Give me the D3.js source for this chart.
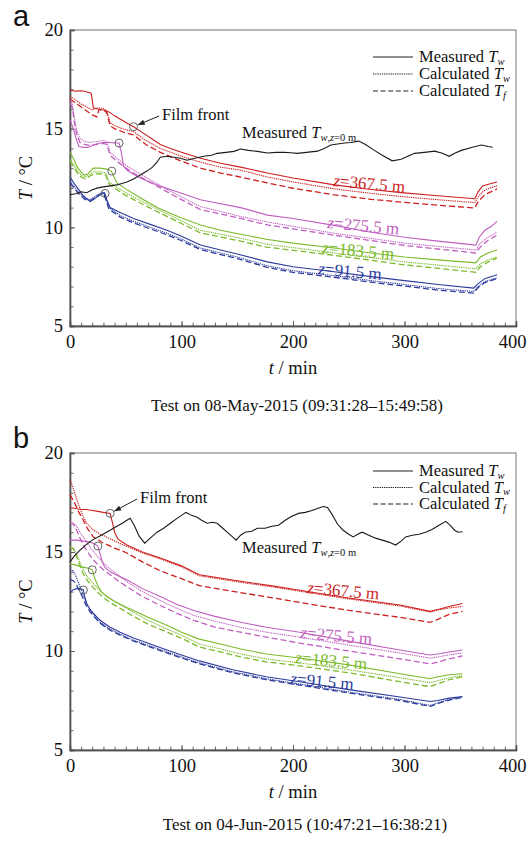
<!DOCTYPE html>
<html><head><meta charset="utf-8">
<script src="https://cdn.jsdelivr.net/npm/d3@7"></script>
<style>body{margin:0;background:#fff} svg{display:block} text{font-family:'Liberation Serif','Times New Roman',serif}</style>
</head><body><svg id="c" width="532" height="841"></svg>
<script>
// ---------------- DATA (t in min, T in °C) ----------------
const xTicks = [0, 100, 200, 300, 400];
const yTicks = [5, 10, 15, 20];
const depthLabels = ["z=367.5 m", "z=275.5 m", "z=183.5 m", "z=91.5 m"];
const captionA = "Test on 08-May-2015 (09:31:28\u201315:49:58)";
const captionB = "Test on 04-Jun-2015 (10:47:21\u201316:38:21)";

// ---- Panel a ----
const aSurface = [[0,11.65],[5,11.7],[10,11.8],[15,11.75],[20,11.9],[25,12.0],[30,12.05],[36,12.1],[42,12.15],[51,12.3],[57,12.45],[63,12.65],[69,12.85],[74,13.05],[78,13.3],[81,13.55],[87,13.6],[93,13.55],[99,13.5],[105,13.4],[112,13.5],[120,13.6],[127,13.65],[132,13.75],[140,13.8],[147,13.85],[153,13.97],[160,13.9],[168,13.85],[177,13.77],[185,13.8],[192,13.8],[198,13.78],[204,13.75],[212,13.8],[222,13.86],[228,14.0],[234,14.17],[240,14.22],[246,14.27],[252,14.3],[259,14.37],[265,14.2],[273,13.9],[280,13.65],[289,13.37],[297,13.45],[303,13.6],[309,13.75],[318,13.8],[327,13.86],[334,13.75],[340,13.6],[345,13.75],[351,13.9],[360,14.05],[369,14.17],[375,14.1],[379,14.06]];

const aRedMeas = [[0,16.95],[5,16.9],[10,16.92],[13,16.9],[16,16.85],[19,16.8],[21,16.05],[25,16.0],[30,15.95],[35,15.85],[40,15.65],[46,15.45],[52,15.25],[57,15.1],[65,14.8],[73,14.5],[81,14.2],[90,14.0],[100,13.8],[117,13.5],[135,13.25],[153,13.05],[177,12.75],[200,12.5],[237,12.15],[270,11.92],[297,11.76],[330,11.6],[363,11.45],[366,11.8],[370,12.1],[376,12.2],[383,12.3]];
const aRedCalcW = [[0,16.65],[5,16.45],[10,16.25],[15,16.1],[20,15.95],[24,16.05],[28,16.05],[31,16.0],[33,15.9],[36,15.3],[40,15.15],[48,14.98],[57,14.85],[68,14.4],[81,14.0],[100,13.6],[117,13.3],[135,13.05],[153,12.9],[177,12.55],[200,12.3],[237,11.95],[270,11.72],[297,11.56],[330,11.4],[363,11.25],[366,11.55],[371,11.85],[377,12.0],[383,12.1]];
const aRedCalcF = [[0,16.5],[5,16.3],[10,16.1],[15,15.9],[20,15.7],[24,15.6],[26,15.95],[30,15.95],[33,15.8],[36,15.15],[40,15.0],[48,14.82],[57,14.68],[68,14.2],[81,13.8],[100,13.35],[117,13.0],[135,12.75],[153,12.55],[177,12.25],[200,11.98],[237,11.65],[270,11.42],[297,11.28],[330,11.12],[363,10.98],[366,11.3],[372,11.65],[383,11.95]];

const aMagMeas = [[0,15.45],[3,15.0],[6,14.4],[8,14.1],[12,14.05],[16,14.05],[20,14.15],[25,14.25],[30,14.3],[36,14.3],[40,14.28],[44,14.27],[46,13.8],[48,13.1],[52,12.85],[60,12.6],[66,12.42],[80,12.1],[96,11.8],[117,11.4],[126,11.3],[153,11.0],[177,10.62],[200,10.45],[237,10.1],[270,9.75],[300,9.5],[330,9.3],[364,9.1],[367,9.5],[372,9.85],[378,10.05],[383,10.3]];
const aMagCalcW = [[0,16.45],[2,16.3],[4,15.5],[6,14.9],[9,14.5],[13,14.35],[18,14.3],[24,14.35],[30,14.4],[33,14.35],[36,13.8],[42,13.5],[50,13.15],[60,12.8],[72,12.4],[96,11.65],[117,11.05],[153,10.55],[177,10.27],[237,9.7],[300,9.2],[364,8.85],[368,9.2],[375,9.5],[383,9.75]];
const aMagCalcF = [[0,16.3],[2,16.1],[4,15.3],[6,14.7],[9,14.3],[13,14.2],[18,14.15],[24,14.2],[30,14.25],[33,14.2],[36,13.65],[42,13.35],[50,13.0],[60,12.65],[72,12.28],[96,11.52],[117,10.9],[153,10.45],[177,10.12],[237,9.6],[300,9.08],[364,8.7],[368,9.0],[375,9.35],[383,9.6]];

const aGrnMeas = [[0,13.8],[3,13.5],[6,13.1],[10,12.8],[13,12.65],[16,12.7],[19,12.9],[21,13.0],[27,13.0],[33,12.95],[37,12.85],[40,12.5],[42,12.25],[50,11.95],[57,11.7],[66,11.4],[80,10.95],[99,10.5],[117,10.12],[135,9.85],[153,9.65],[176,9.4],[200,9.2],[237,8.95],[270,8.7],[300,8.5],[330,8.35],[364,8.2],[368,8.5],[375,8.7],[383,8.85]];
const aGrnCalcW = [[0,13.45],[3,13.2],[6,12.9],[10,12.65],[14,12.55],[18,12.7],[21,12.8],[27,12.82],[32,12.75],[35,12.3],[40,12.1],[50,11.75],[60,11.45],[72,11.1],[99,10.35],[117,9.85],[153,9.45],[176,9.15],[237,8.7],[300,8.25],[364,7.9],[368,8.15],[375,8.35],[383,8.5]];
const aGrnCalcF = [[0,13.35],[3,13.1],[6,12.8],[10,12.55],[14,12.45],[18,12.6],[21,12.7],[27,12.72],[32,12.65],[35,12.2],[40,11.98],[50,11.62],[60,11.32],[72,10.97],[99,10.22],[117,9.72],[153,9.3],[176,9.0],[237,8.58],[300,8.1],[364,7.72],[368,8.0],[375,8.25],[383,8.45]];

const aBluMeas = [[0,12.55],[4,12.2],[8,11.9],[12,11.6],[18,11.3],[22,11.45],[27,11.65],[31,11.75],[33,11.4],[36,11.0],[45,10.75],[57,10.45],[72,10.15],[87,9.85],[100,9.55],[117,9.1],[135,8.85],[150,8.65],[177,8.25],[200,8.0],[237,7.75],[270,7.5],[300,7.3],[330,7.1],[362,6.92],[366,7.15],[372,7.4],[383,7.6]];
const aBluCalcW = [[0,12.35],[4,12.05],[8,11.75],[13,11.5],[18,11.4],[22,11.55],[26,11.7],[30,11.8],[32,11.5],[35,11.0],[45,10.6],[57,10.3],[72,10.0],[87,9.7],[100,9.4],[117,8.95],[135,8.7],[150,8.5],[177,8.05],[200,7.8],[237,7.55],[270,7.3],[300,7.1],[330,6.9],[362,6.75],[366,7.0],[372,7.25],[383,7.45]];
const aBluCalcF = [[0,12.25],[4,11.97],[8,11.68],[13,11.43],[18,11.33],[22,11.48],[26,11.63],[30,11.73],[32,11.42],[35,10.92],[45,10.52],[57,10.22],[72,9.92],[87,9.62],[100,9.32],[117,8.87],[135,8.62],[150,8.42],[177,7.97],[200,7.72],[237,7.47],[270,7.22],[300,7.02],[330,6.82],[362,6.67],[366,6.95],[372,7.2],[383,7.4]];

// ---- Panel b ----
const bSurface = [[0,14.5],[4,14.8],[9,15.1],[14,15.35],[20,15.6],[28,15.85],[36,16.1],[42,16.3],[47,16.45],[51,16.6],[54,16.7],[58,16.3],[62,15.8],[67,15.45],[72,15.7],[78,16.0],[84,16.2],[90,16.45],[96,16.7],[100,16.85],[104,17.0],[109,16.85],[114,16.75],[118,16.6],[123,16.45],[128,16.5],[132,16.45],[137,16.2],[141,16.0],[145,15.8],[149,15.6],[153,15.85],[157,16.0],[163,16.05],[168,16.2],[175,16.2],[181,16.3],[187,16.35],[193,16.6],[199,16.8],[205,16.95],[211,17.0],[217,17.1],[222,17.2],[227,17.3],[231,17.25],[235,16.9],[240,16.4],[245,16.1],[250,15.9],[254,15.76],[258,15.9],[262,16.0],[268,15.85],[274,15.7],[280,15.6],[286,15.5],[292,15.35],[297,15.55],[301,15.76],[307,15.85],[313,15.9],[319,16.0],[325,16.15],[331,16.35],[337,16.55],[341,16.35],[345,16.1],[348,16.0],[352,16.02]];

const bRedMeas = [[0,17.25],[5,17.2],[10,17.15],[15,17.15],[20,17.1],[25,17.05],[30,17.0],[36,16.95],[38,16.5],[40,16.0],[43,15.65],[51,15.35],[65,15.0],[81,14.7],[100,14.3],[116,13.85],[153,13.52],[180,13.3],[206,13.07],[250,12.68],[296,12.32],[323,12.0],[330,12.1],[340,12.25],[352,12.4]];
const bRedCalcW = [[0,18.65],[3,18.2],[7,17.5],[11,16.9],[15,16.45],[20,16.15],[27,15.9],[33,15.75],[42,15.5],[51,15.28],[65,14.95],[81,14.65],[100,14.25],[116,13.8],[153,13.47],[180,13.25],[206,13.02],[250,12.63],[296,12.27],[323,11.97],[330,12.07],[340,12.17],[352,12.25]];
const bRedCalcF = [[0,17.9],[4,17.5],[8,17.0],[12,16.6],[16,16.15],[21,15.76],[30,15.45],[40,15.2],[51,14.95],[65,14.5],[81,14.05],[100,13.65],[116,13.3],[153,12.95],[180,12.7],[206,12.45],[250,12.05],[296,11.7],[323,11.45],[330,11.6],[340,11.85],[352,12.0]];

const bMagMeas = [[0,15.6],[6,15.6],[12,15.55],[18,15.5],[22,15.4],[25,15.3],[27,14.9],[29,14.5],[31,14.25],[36,14.0],[43,13.8],[51,13.6],[65,13.15],[81,12.75],[96,12.35],[111,12.05],[130,11.75],[153,11.45],[176,11.2],[206,10.95],[250,10.5],[296,10.05],[323,9.8],[330,9.85],[340,9.95],[352,10.05]];
const bMagCalcW = [[0,16.5],[3,16.45],[6,16.3],[9,16.0],[12,15.75],[16,15.4],[20,15.1],[25,14.75],[30,14.45],[36,14.15],[43,13.85],[51,13.5],[65,13.0],[81,12.55],[96,12.15],[111,11.8],[130,11.5],[153,11.2],[176,10.95],[206,10.7],[250,10.3],[296,9.9],[323,9.64],[330,9.7],[340,9.8],[352,9.9]];
const bMagCalcF = [[0,16.5],[3,16.4],[6,16.1],[9,15.7],[13,15.25],[17,14.9],[21,14.6],[25,14.35],[30,14.1],[36,13.85],[43,13.55],[51,13.25],[65,12.75],[81,12.3],[96,11.9],[111,11.55],[130,11.2],[153,10.95],[176,10.7],[206,10.4],[250,10.0],[296,9.6],[323,9.35],[330,9.45],[340,9.6],[352,9.75]];

const bGrnMeas = [[0,14.4],[5,14.35],[10,14.25],[15,14.2],[20,14.1],[22,13.7],[25,13.3],[28,13.0],[33,12.75],[40,12.5],[51,12.2],[57,12.05],[70,11.7],[87,11.3],[100,10.95],[116,10.6],[135,10.35],[153,10.1],[176,9.85],[206,9.65],[250,9.3],[296,8.85],[323,8.6],[330,8.7],[340,8.8],[352,8.85]];
const bGrnCalcW = [[0,15.25],[3,15.2],[5,15.0],[8,14.6],[11,14.2],[15,13.8],[20,13.45],[25,13.15],[30,12.9],[36,12.65],[45,12.35],[57,11.95],[70,11.55],[87,11.1],[100,10.8],[116,10.35],[135,10.1],[153,9.85],[176,9.6],[206,9.4],[250,9.05],[296,8.65],[323,8.4],[330,8.5],[340,8.65],[352,8.75]];
const bGrnCalcF = [[0,15.25],[3,15.15],[5,14.9],[8,14.45],[11,14.0],[15,13.6],[20,13.25],[25,12.95],[30,12.7],[36,12.45],[45,12.15],[57,11.75],[70,11.35],[87,10.95],[100,10.65],[116,10.2],[135,9.95],[153,9.7],[176,9.45],[206,9.25],[250,8.9],[296,8.45],[323,8.2],[330,8.35],[340,8.55],[352,8.7]];

const bBluMeas = [[0,12.95],[3,13.1],[6,13.15],[9,13.15],[12,13.08],[13,12.8],[15,12.4],[18,12.1],[21,11.9],[27,11.55],[36,11.2],[45,10.95],[57,10.66],[72,10.35],[87,10.05],[100,9.8],[116,9.5],[146,9.05],[176,8.7],[206,8.45],[250,8.05],[296,7.68],[323,7.45],[330,7.5],[340,7.62],[352,7.7]];
const bBluCalcW = [[0,14.1],[3,14.05],[5,13.8],[8,13.4],[11,12.95],[14,12.5],[18,12.05],[21,11.85],[27,11.45],[36,11.1],[45,10.85],[57,10.55],[72,10.25],[87,9.95],[100,9.7],[116,9.4],[146,8.95],[176,8.6],[206,8.33],[250,7.93],[296,7.55],[323,7.25],[330,7.38],[340,7.55],[352,7.68]];
const bBluCalcF = [[0,13.6],[3,13.55],[5,13.4],[8,13.1],[11,12.75],[14,12.35],[18,11.98],[21,11.78],[27,11.4],[36,11.05],[45,10.8],[57,10.5],[72,10.2],[87,9.9],[100,9.65],[116,9.35],[146,8.9],[176,8.55],[206,8.28],[250,7.88],[296,7.5],[323,7.2],[330,7.35],[340,7.52],[352,7.66]];

// film-front points [t, T] per depth (red, magenta, green, blue)
const aFront = [[57,15.1],[44,14.27],[37.5,12.85],[31.5,11.72]];
const bFront = [[36,16.95],[25,15.3],[20,14.1],[12,13.08]];

// ---------------- DRAWING ----------------
const colors = ["#cc1f1f", "#c05fc0", "#7cba2c", "#2c3c9c"];
const serif = "'Liberation Serif','Times New Roman',serif";
const svg = d3.select("#c");
svg.append("rect").attr("width",532).attr("height",841).attr("fill","#fff");

function richText(sel, parts){
  parts.forEach(p=>{
    const ts = sel.append("tspan").text(p.t);
    if(p.i) ts.attr("font-style","italic");
    if(p.s) ts.attr("font-size",p.s);
    if(p.dy) ts.attr("dy",p.dy);
  });
  return sel;
}

function drawPanel(cfg){
  const x = d3.scaleLinear().domain([0,400]).range([70,516]);
  const y = d3.scaleLinear().domain([5,20]).range([cfg.bottom, cfg.top]);
  const g = svg.append("g");

  // panel letter
  g.append("text").attr("x",13).attr("y",cfg.letterY).style("font-family","'Liberation Sans',Arial,sans-serif")
    .attr("font-size",29).attr("fill","#111").text(cfg.letter);

  // frame
  g.append("rect").attr("x",x(0)).attr("y",y(20)).attr("width",x(400)-x(0)).attr("height",y(5)-y(20))
    .attr("fill","none").attr("stroke","#8a8a8a").attr("stroke-width",1.2);

  // axes
  const xMinor = g.append("g").attr("transform",`translate(0,${cfg.bottom})`)
    .call(d3.axisBottom(x).tickValues(d3.range(0,401,10)).tickSize(-3.5).tickFormat(""));
  const yMinor = g.append("g").attr("transform",`translate(70,0)`)
    .call(d3.axisLeft(y).tickValues(d3.range(5,21,1)).tickSize(-3.5).tickFormat(""));
  const xAx = g.append("g").attr("transform",`translate(0,${cfg.bottom})`)
    .call(d3.axisBottom(x).tickValues(xTicks).tickSize(-5).tickPadding(9).tickFormat(d3.format("d")));
  const yAx = g.append("g").attr("transform",`translate(70,0)`)
    .call(d3.axisLeft(y).tickValues(yTicks).tickSize(-5).tickPadding(7).tickFormat(d3.format("d")));
  [xMinor,yMinor,xAx,yAx].forEach(a=>{
    a.attr("font-family",null);
    a.select(".domain").attr("stroke","#555").attr("stroke-width",1.4);
    a.selectAll(".tick line").attr("stroke","#555").attr("stroke-width",0.9);
    a.selectAll("text").style("font-family",serif).attr("font-size",18.5).attr("fill","#111");
  });
  xAx.selectAll("text").filter(d=>d===400).attr("dx",-4);

  // axis titles
  richText(g.append("text").attr("x",293).attr("y",cfg.bottom+48).attr("text-anchor","middle")
    .attr("font-size",18.5).attr("fill","#111"),
    [{t:"t",i:true},{t:" / min"}]);
  richText(g.append("text").attr("transform",`translate(32,${(cfg.top+cfg.bottom)/2}) rotate(-90)`)
    .attr("text-anchor","middle").attr("font-size",18.5).attr("fill","#111"),
    [{t:"T",i:true},{t:" / \u00b0C"}]);

  // caption
  g.append("text").attr("x",cfg.capX).attr("y",cfg.capY).attr("text-anchor","middle")
    .attr("font-size",17).attr("fill","#111").text(cfg.caption);

  const line = d3.line().x(d=>x(d[0])).y(d=>y(d[1]));
  const plot = g.append("g");

  // depth series
  cfg.groups.forEach((grp,i)=>{
    const c = colors[i];
    plot.append("path").datum(grp[2]).attr("d",line).attr("fill","none").attr("stroke",c)
      .attr("stroke-width",1.3).attr("stroke-dasharray","6,3");
    plot.append("path").datum(grp[1]).attr("d",line).attr("fill","none").attr("stroke",c)
      .attr("stroke-width",1.1).attr("stroke-dasharray","1.3,0.9");
    plot.append("path").datum(grp[0]).attr("d",line).attr("fill","none").attr("stroke",c)
      .attr("stroke-width",1.1);
  });
  // surface measured
  plot.append("path").datum(cfg.surface).attr("d",line).attr("fill","none").attr("stroke","#1a1a1a").attr("stroke-width",1.1);

  // film-front circles
  cfg.front.forEach(d=>{
    plot.append("circle").attr("cx",x(d[0])).attr("cy",y(d[1])).attr("r",4)
      .attr("fill","none").attr("stroke","#555").attr("stroke-width",0.9);
  });

  // film front annotation
  const f0 = cfg.front[0];
  const cx = x(f0[0]), cy = y(f0[1]);
  const ax = cfg.ffX - 3, ay = cfg.ffY - 4;
  const ang = Math.atan2(cy-ay, cx-ax);
  const tx = cx - Math.cos(ang)*4.5, ty = cy - Math.sin(ang)*4.5;
  g.append("line").attr("x1",ax).attr("y1",ay).attr("x2",tx).attr("y2",ty).attr("stroke","#222").attr("stroke-width",1);
  const ah = 7, aw = 2.6;
  const bx = tx - Math.cos(ang)*ah, by = ty - Math.sin(ang)*ah;
  g.append("path").attr("d",`M${tx},${ty}L${bx - Math.sin(ang)*aw},${by + Math.cos(ang)*aw}L${bx + Math.sin(ang)*aw},${by - Math.cos(ang)*aw}Z`).attr("fill","#222");
  g.append("text").attr("x",cfg.ffX).attr("y",cfg.ffY).attr("font-size",16.5)
    .attr("fill","#111").text("Film front");

  // surface label
  richText(g.append("text").attr("x",cfg.surfX).attr("y",cfg.surfY).attr("font-size",16.5).attr("fill","#111"),
    [{t:"Measured "},{t:"T",i:true},{t:"w",i:true,s:10.5,dy:3},{t:",",s:10.5},{t:"z",i:true,s:10.5},{t:"=0 m",s:10.5}]);

  // depth labels
  cfg.depthPos.forEach((p,i)=>{
    const lab = depthLabels[i];
    richText(g.append("text").attr("transform",`translate(${p[0]},${p[1]}) rotate(5.2)`)
      .attr("font-size",17).attr("fill",colors[i]),
      [{t:"z",i:true},{t:lab.slice(1)}]);
  });

  // legend
  const leg = g.append("g");
  const styles = [null,"1.3,0.9","5,2.6"];
  const names = [["Measured ","w"],["Calculated ","w"],["Calculated ","f"]];
  names.forEach((n,k)=>{
    const yy = cfg.legY + k*cfg.legDy;
    leg.append("line").attr("x1",373).attr("x2",413).attr("y1",yy).attr("y2",yy).attr("stroke","#222")
      .attr("stroke-width",k===1?1.1:1.2).attr("stroke-dasharray",styles[k]);
    richText(leg.append("text").attr("x",419).attr("y",yy+5).attr("font-size",16.5).attr("fill","#111"),
      [{t:n[0]},{t:"T",i:true},{t:n[1],i:true,s:10.5,dy:2.5}]);
  });
}

drawPanel({letter:"a", letterY:26, top:30, bottom:326, caption:captionA, capX:297, capY:411,
  surface:aSurface,
  groups:[[aRedMeas,aRedCalcW,aRedCalcF],[aMagMeas,aMagCalcW,aMagCalcF],[aGrnMeas,aGrnCalcW,aGrnCalcF],[aBluMeas,aBluCalcW,aBluCalcF]],
  front:aFront, ffX:162, ffY:120, surfX:242, surfY:138,
  depthPos:[[333,186],[327,228],[322,253],[318,274]],
  legY:57, legDy:17});

drawPanel({letter:"b", letterY:448, top:453, bottom:750, caption:captionB, capX:305, capY:830,
  surface:bSurface,
  groups:[[bRedMeas,bRedCalcW,bRedCalcF],[bMagMeas,bMagCalcW,bMagCalcF],[bGrnMeas,bGrnCalcW,bGrnCalcF],[bBluMeas,bBluCalcW,bBluCalcF]],
  front:bFront, ffX:140, ffY:503, surfX:242, surfY:553,
  depthPos:[[307,593],[300,638],[295,663],[290,684]],
  legY:471, legDy:16.5});
</script></body></html>
